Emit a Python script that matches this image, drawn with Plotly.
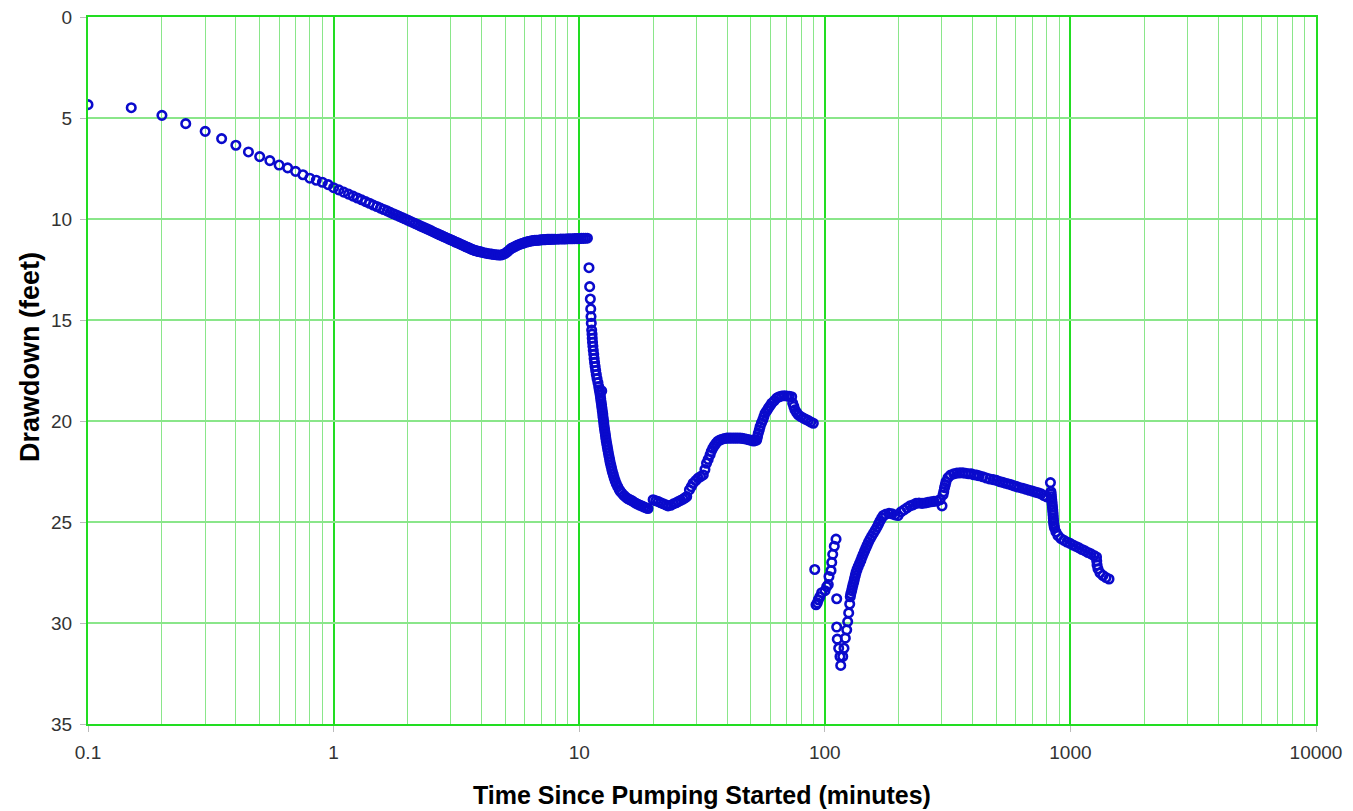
import plotly.graph_objects as go

# ---- Drawdown record (time in minutes, drawdown in feet) ----
early_t = [0.1, 0.15, 0.2, 0.25, 0.3, 0.35, 0.4, 0.45, 0.5, 0.55, 0.6, 0.65, 0.7, 0.75,
           0.8, 0.85, 0.9, 0.95]
early_dd = [4.34, 4.49, 4.87, 5.28, 5.66, 6.02, 6.35, 6.68, 6.91, 7.11, 7.33, 7.47, 7.64, 7.81,
            7.98, 8.08, 8.18, 8.30]

first_t = [1.0, 1.05, 1.1, 1.15, 1.2, 1.25, 1.3, 1.35, 1.4, 1.45, 1.5, 1.55, 1.6, 1.65, 1.7,
           1.75, 1.8, 1.85, 1.9, 1.95,
           2.0, 2.05, 2.1, 2.15, 2.2, 2.25, 2.3, 2.35, 2.4, 2.45, 2.5, 2.55, 2.6, 2.65, 2.7,
           2.75, 2.8, 2.85, 2.9, 2.95,
           3.0, 3.05, 3.1, 3.15, 3.2, 3.25, 3.3, 3.35, 3.4, 3.45, 3.5, 3.55, 3.6, 3.65, 3.7,
           3.75, 3.8, 3.85, 3.9, 3.95,
           4.0, 4.1, 4.2, 4.3, 4.4, 4.5, 4.6, 4.7, 4.8, 4.9,
           5.0, 5.1, 5.2, 5.3, 5.4, 5.5, 5.6, 5.7, 5.8, 5.9,
           6.0, 6.1, 6.2, 6.3, 6.4, 6.5, 6.6, 6.7, 6.8, 6.9,
           7.0, 7.1, 7.2, 7.3, 7.4, 7.5, 7.6, 7.7, 7.8, 7.9,
           8.0, 8.2, 8.4, 8.6, 8.8, 9.0, 9.2, 9.4, 9.6, 9.8, 10.0, 10.2, 10.4, 10.6, 10.8]
first_dd = [8.45, 8.56, 8.67, 8.77, 8.87, 8.96, 9.05, 9.14, 9.22, 9.31, 9.38, 9.46, 9.53, 9.60,
            9.67, 9.74, 9.80, 9.87, 9.93, 9.99,
            10.05, 10.11, 10.17, 10.23, 10.28, 10.34, 10.39, 10.44, 10.49, 10.54, 10.59, 10.64,
            10.69, 10.73, 10.78, 10.82, 10.87, 10.91, 10.95, 10.99,
            11.03, 11.07, 11.11, 11.15, 11.18, 11.22, 11.26, 11.29, 11.33, 11.36, 11.40, 11.43,
            11.46, 11.50, 11.53, 11.55, 11.57, 11.59, 11.61, 11.62,
            11.64, 11.67, 11.70, 11.72, 11.74, 11.76, 11.77, 11.78, 11.78, 11.75,
            11.70, 11.62, 11.53, 11.45, 11.40, 11.35, 11.30, 11.26, 11.23, 11.20,
            11.17, 11.14, 11.12, 11.10, 11.08, 11.07, 11.06, 11.05, 11.05, 11.04,
            11.03, 11.03, 11.02, 11.02, 11.01, 11.01, 11.01, 11.00, 11.00, 11.00,
            11.00, 11.00, 10.99, 10.99, 10.99, 10.98, 10.98, 10.98, 10.97, 10.97, 10.97, 10.96,
            10.96, 10.95, 10.95]

drop_t = [10.96, 11.03, 11.10, 11.14, 11.17, 11.20,
          11.24, 11.28, 11.30, 11.33, 11.37, 11.41, 11.46, 11.50, 11.55, 11.61, 11.67, 11.74,
          11.82, 11.92, 12.01,
          12.35,
          12.07, 12.13, 12.19, 12.23, 12.28, 12.33, 12.37, 12.42, 12.47, 12.50, 12.55, 12.59,
          12.63, 12.68, 12.73, 12.79, 12.83, 12.89, 12.95, 13.02, 13.08, 13.15, 13.22, 13.30,
          13.37, 13.46, 13.55, 13.64, 13.76, 13.87, 14.00, 14.15, 14.35, 14.56, 14.73,
          14.94, 15.22, 15.51, 15.80, 16.10, 16.41, 16.72, 17.03, 17.35, 17.68, 18.02, 18.36,
          18.71, 19.06]
drop_dd = [12.41, 13.35, 13.96, 14.45, 14.83, 15.16,
           15.5, 15.7, 15.9, 16.1, 16.3, 16.5, 16.7, 16.9, 17.1, 17.3, 17.5, 17.7, 17.9, 18.1,
           18.3,
           18.51,
           18.45, 18.6, 18.75, 18.9, 19.05, 19.2, 19.35, 19.5, 19.65, 19.8, 19.95, 20.1, 20.25,
           20.4, 20.55, 20.7, 20.85, 21.0, 21.15, 21.3, 21.45, 21.6, 21.75, 21.9, 22.05, 22.2,
           22.35, 22.5, 22.65, 22.8, 22.95, 23.1, 23.25, 23.4, 23.5,
           23.58, 23.69, 23.78, 23.85, 23.9, 23.95, 24.02, 24.08, 24.12, 24.17, 24.21, 24.26,
           24.3, 24.33]

recover_t = [20.0, 20.5, 21.0, 21.5, 22.0, 22.5, 23.0, 23.6, 24.2, 24.8, 25.3, 25.9, 26.5,
             27.0, 27.4,
             28.1, 28.6, 29.1, 29.8, 30.5, 31.2, 32.0, 32.5, 33.0, 33.5, 34.1, 34.5, 35.0, 35.5,
             36.1, 36.7, 37.4,
             38.2, 39.0, 39.9, 40.7, 41.5, 42.4, 43.3, 44.2, 45.2, 46.1, 47.1, 48.1, 49.1, 50.1,
             51.2, 52.0, 52.8,
             53.2, 53.6, 54.1, 54.5, 55.2, 55.9, 56.5, 57.1, 58.0, 58.9, 59.8, 60.8, 62.2, 63.7,
             65.2, 66.8, 68.4, 70.0, 71.6, 73.3,
             74.0, 74.8, 75.6, 76.8, 78.0, 79.8, 81.8, 83.7, 85.7, 87.7, 89.8]
recover_dd = [23.9, 23.95, 23.99, 24.05, 24.1, 24.15, 24.2, 24.17, 24.1, 24.05, 23.99, 23.93,
              23.87, 23.8, 23.74,
              23.41, 23.25, 23.08, 22.95, 22.83, 22.75, 22.67, 22.4, 22.09, 21.9, 21.68, 21.5,
              21.35, 21.22, 21.1, 21.0, 20.94,
              20.9, 20.87, 20.85, 20.85, 20.85, 20.85, 20.85, 20.85, 20.85, 20.86, 20.88, 20.9,
              20.93, 20.96, 20.99, 20.97, 20.94,
              20.78, 20.61, 20.45, 20.28, 20.1, 19.95, 19.78, 19.62, 19.5, 19.37, 19.25, 19.12,
              19.0, 18.87, 18.8, 18.76, 18.75, 18.76, 18.78, 18.8,
              19.12, 19.28, 19.45, 19.58, 19.7, 19.78, 19.86, 19.92, 19.98, 20.05, 20.11]

scatter_t = [91.0, 92.1, 93.2, 94.1, 95.5, 97.1, 100.2, 101.8, 103.3, 104.0,
             106.0, 106.7, 107.7, 109.3, 111.1, 111.8, 111.8, 112.4, 113.9, 115.3,
             116.1, 118.3, 119.7, 121.2, 122.8, 123.9, 125.1, 126.3, 127.0]
scatter_dd = [27.35, 29.1, 29.0, 28.85, 28.7, 28.5, 28.4, 28.2, 28.1, 27.7,
              27.4, 27.0, 26.6, 26.2, 25.85, 28.8, 30.2, 30.8, 31.25, 31.66,
              32.1, 31.66, 31.25, 30.75, 30.34, 29.93, 29.5, 29.06, 28.7]

late_t = [127.6, 128.6, 129.4, 130.3, 131.3, 132.1, 133.1, 134.0, 135.3, 136.8, 138.5, 140.2,
          141.7, 143.3, 145.1, 146.9, 148.7, 150.6, 152.8, 155.2, 157.9, 160.6, 163.2, 165.5,
          167.8, 170.5, 173.1, 176.7,
          182.6, 187.8, 193.1, 198.7, 204.3, 210.2, 216.1, 222.3, 228.7, 235.2, 241.9, 248.8,
          255.9, 263.2, 270.7, 278.4, 286.3, 294.5,
          300.1, 302.9, 305.0, 307.2, 309.5, 311.6, 317.5,
          325, 335, 345, 355, 365, 375, 385, 395, 405, 415, 425, 440, 455, 470, 485, 500, 515,
          530, 545, 560, 575, 590, 605, 620, 640, 660, 680, 700, 720, 740, 760, 780, 800,
          829.3,
          833, 835, 837, 839, 841, 843, 845, 847, 849, 850.5, 852, 853.5, 855, 858, 861,
          873.2, 889.7, 915.1, 941.2, 968.0, 996.3, 1024.8, 1054.0, 1084.0, 1114.9, 1146.7,
          1179.4, 1213.0, 1247.6, 1277.2, 1280, 1284, 1295, 1320, 1357, 1396, 1436]
late_dd = [28.55, 28.4, 28.25, 28.1, 27.95, 27.8, 27.65, 27.5, 27.35, 27.2, 27.05, 26.9,
           26.75, 26.6, 26.45, 26.3, 26.15, 26.0, 25.85, 25.7, 25.55, 25.4, 25.25, 25.1,
           24.95, 24.8, 24.68, 24.62,
           24.57, 24.6, 24.65, 24.68, 24.5, 24.4, 24.3, 24.2, 24.15, 24.08, 24.06, 24.08,
           24.06, 24.03, 24.0, 23.98, 23.96, 23.9,
           24.2, 23.66, 23.5, 23.3, 23.15, 23.0, 22.8,
           22.68, 22.62, 22.58, 22.57, 22.57, 22.59, 22.61, 22.62, 22.66, 22.68, 22.71, 22.76,
           22.82, 22.87, 22.9, 22.94, 23.0, 23.04, 23.08, 23.12, 23.16, 23.21, 23.25, 23.29,
           23.33, 23.38, 23.43, 23.47, 23.52, 23.56, 23.61, 23.69, 23.76,
           23.05,
           23.5, 23.62, 23.75, 23.88, 24.0, 24.13, 24.26, 24.4, 24.53, 24.66, 24.8, 24.93,
           25.06, 25.18, 25.29,
           25.49, 25.67, 25.82, 25.91, 25.99, 26.06, 26.14, 26.21, 26.28, 26.36, 26.43,
           26.51, 26.58, 26.66, 26.73, 26.93, 27.13, 27.32, 27.52, 27.65, 27.75, 27.82]

time_min = early_t + first_t + drop_t + recover_t + scatter_t + late_t
drawdown_ft = early_dd + first_dd + drop_dd + recover_dd + scatter_dd + late_dd

# ---- Axis ticks and titles ----
x_tick_vals = [0.1, 1, 10, 100, 1000, 10000]
x_tick_text = ["0.1", "1", "10", "100", "1000", "10000"]
y_tick_vals = [0, 5, 10, 15, 20, 25, 30, 35]
minor_x = [m * 10.0 ** k for k in range(-1, 4) for m in range(2, 10)]
x_title = "Time Since Pumping Started (minutes)"
y_title = "Drawdown (feet)"

base_font = "Liberation Sans, Arial, sans-serif"
major_green = "#22dd22"
minor_green = "#8ae68a"
point_blue = "#0a0acc"

fig = go.Figure()
fig.add_trace(go.Scatter(
    x=time_min, y=drawdown_ft, mode="markers",
    marker=dict(symbol="circle-open", size=8.5, color=point_blue,
                line=dict(width=2.6, color=point_blue)),
    showlegend=False, hoverinfo="x+y",
))

axis_common = dict(
    showline=True, linecolor=major_green, linewidth=2, mirror=True,
    ticks="outside", ticklen=6, tickcolor="#bbbbbb", tickwidth=1,
    tickfont=dict(family=base_font, size=19, color="#333333"),
    zeroline=False, automargin=False,
)

fig.update_layout(
    width=1353, height=811,
    margin=dict(l=88, r=37, t=17, b=87),
    paper_bgcolor="white", plot_bgcolor="white",
    font=dict(family=base_font, size=16, color="#333333"),
    xaxis=dict(
        type="log", range=[-1, 4],
        tickmode="array", tickvals=x_tick_vals, ticktext=x_tick_text,
        showgrid=True, gridcolor=major_green, gridwidth=2,
        minor=dict(tickmode="array", tickvals=minor_x, showgrid=True,
                   gridcolor=minor_green, gridwidth=1.3, ticks=""),
        ticklabelstandoff=4,
        **axis_common,
    ),
    yaxis=dict(
        range=[35, 0], tickmode="array", tickvals=y_tick_vals,
        showgrid=True, gridcolor=minor_green, gridwidth=1.5,
        ticklabelstandoff=4,
        **axis_common,
    ),
    annotations=[
        dict(text="<b>" + x_title + "</b>", xref="paper", yref="paper",
             x=0.5, y=-0.1004, xanchor="center", yanchor="middle", showarrow=False,
             font=dict(family=base_font, size=25, color="black")),
        dict(text="<b>" + y_title + "</b>", xref="paper", yref="paper",
             x=-0.0472, y=0.519, xanchor="center", yanchor="middle", showarrow=False,
             textangle=-90, font=dict(family=base_font, size=27, color="black")),
    ],
)

fig.write_html("out.html")
